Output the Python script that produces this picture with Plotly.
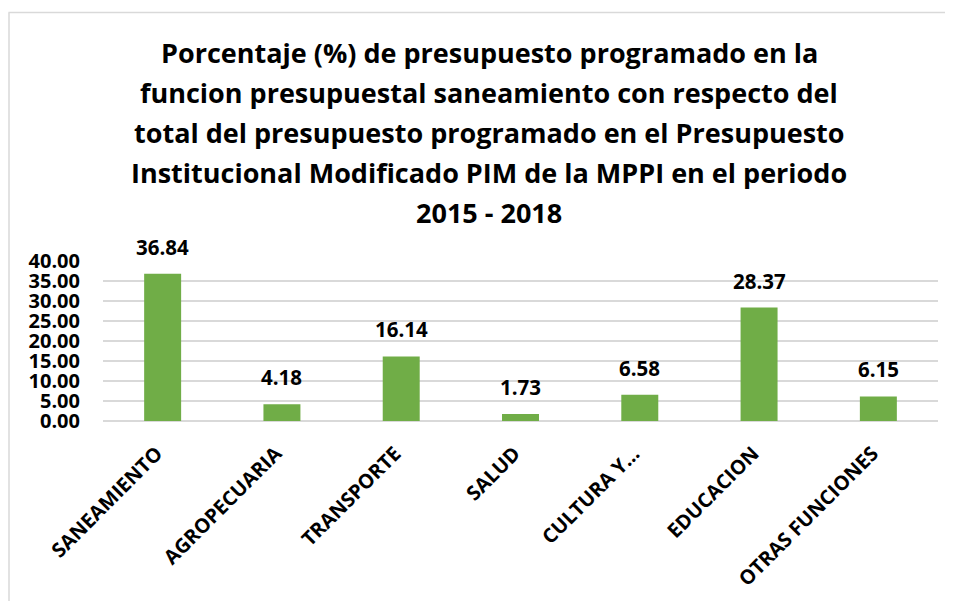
import plotly.graph_objects as go

categories = ["SANEAMIENTO", "AGROPECUARIA", "TRANSPORTE", "SALUD",
              "CULTURA Y…", "EDUCACION", "OTRAS FUNCIONES"]
values = [36.84, 4.18, 16.14, 1.73, 6.58, 28.37, 6.15]
y_ticks = [0, 5, 10, 15, 20, 25, 30, 35, 40]
title_lines = [
    "Porcentaje (%) de presupuesto programado en la",
    "funcion presupuestal saneamiento con respecto del",
    "total del presupuesto programado en el Presupuesto",
    "Institucional Modificado PIM de la MPPI en el periodo",
    "2015 - 2018",
]

OFF = 8  # page body margin
W, H = 953 - OFF, 601 - OFF
ML, MR, MT, MB = 95, 15, 253, 180
PW = W - ML - MR
PH = H - MT - MB


def px_x(x):
    return (x - OFF - ML) / PW


def px_y(y):
    return (H - MB - (y - OFF)) / PH


GREEN = "#70AD47"
GRID = "#D9D9D9"
FONT = "Open Sans"

fig = go.Figure(go.Bar(x=categories, y=values, marker_color=GREEN,
                       marker_line_width=0, hoverinfo="x+y"))

annotations = []
for c, v in zip(categories, values):
    annotations.append(dict(x=c, y=v, xref="x", yref="y", text=f"{v:.2f}",
                            showarrow=False, yanchor="bottom", yshift=11,
                            font=dict(family=FONT, size=20.5, color="black",
                                      weight="bold")))

line_centers = [52, 92, 132, 172, 212]
for t, yc in zip(title_lines, line_centers):
    annotations.append(dict(x=px_x(489), y=px_y(yc), xref="paper", yref="paper",
                            text=t, showarrow=False, xanchor="center",
                            yanchor="middle",
                            font=dict(family=FONT, size=27, color="black",
                                      weight="bold")))

shapes = [
    dict(type="line", xref="paper", yref="paper", x0=px_x(8.5), x1=px_x(950),
         y0=px_y(12.5), y1=px_y(12.5), line=dict(color=GRID, width=1.5)),
    dict(type="line", xref="paper", yref="paper", x0=px_x(9), x1=px_x(9),
         y0=px_y(12.5), y1=px_y(605), line=dict(color=GRID, width=1.5)),
]

fig.update_layout(
    width=W, height=H,
    margin=dict(l=ML, r=MR, t=MT, b=MB, autoexpand=False),
    paper_bgcolor="white", plot_bgcolor="white",
    bargap=0.69,
    showlegend=False,
    annotations=annotations,
    shapes=shapes,
    xaxis=dict(tickangle=-45, showgrid=False, showline=False, ticks="",
               tickfont=dict(family=FONT, size=20, color="black",
                             weight="bold"),
               ticklabelstandoff=16, ticklabelshift=-6),
    yaxis=dict(range=[0, 40], tickvals=y_ticks, tickformat=".2f",
               showgrid=True, gridcolor=GRID, gridwidth=1.5,
               zeroline=True, zerolinecolor=GRID, zerolinewidth=1.5,
               showline=False, ticks="",
               tickfont=dict(family=FONT, size=20, color="black",
                             weight="bold"),
               ticklabelstandoff=22),
)

fig.write_html("out.html")
